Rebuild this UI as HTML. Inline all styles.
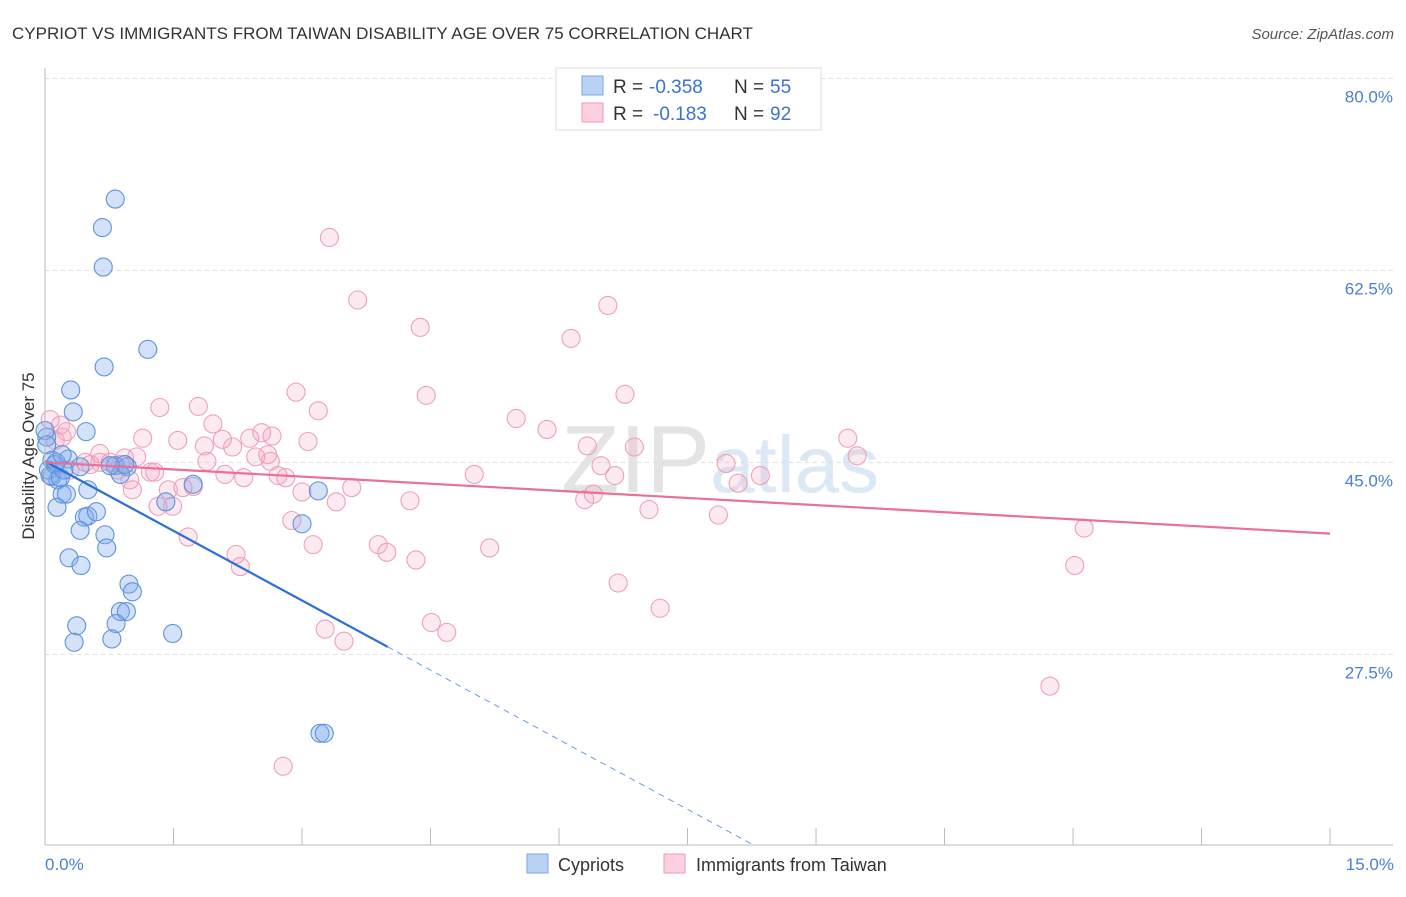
<!DOCTYPE html>
<html><head><meta charset="utf-8"><style>
body{margin:0;background:#fff;font-family:"Liberation Sans",sans-serif}
svg text{font-family:"Liberation Sans",sans-serif}
</style></head><body>
<svg id="chart" width="1406" height="892" xmlns="http://www.w3.org/2000/svg">
<text x="12" y="39" font-size="17" fill="#333">CYPRIOT VS IMMIGRANTS FROM TAIWAN DISABILITY AGE OVER 75 CORRELATION CHART</text>
<text x="1394" y="39" font-size="15" fill="#555" text-anchor="end" font-style="italic">Source: ZipAtlas.com</text>
<text transform="translate(34,456) rotate(-90)" font-size="17" fill="#333" text-anchor="middle">Disability Age Over 75</text>
<text x="720" y="492" font-size="96" fill="#e9e9e9" text-anchor="middle" font-family="Liberation Serif"><tspan fill="#e4e4e4">ZIP</tspan><tspan fill="#dce8f5" font-family="Liberation Sans" font-size="80">atlas</tspan></text>
<g id="grid"></g><g id="pts"></g><g id="trends"></g>
<line x1="45" y1="845" x2="1393" y2="845" stroke="#bbb"/>
<line x1="45" y1="68" x2="45" y2="845" stroke="#bbb"/>
<text x="45" y="870" font-size="17" fill="#4a7fd4">0.0%</text>
<text x="1394" y="870" font-size="17" fill="#4a7fd4" text-anchor="end">15.0%</text>
<g>
<rect x="556" y="68" width="265" height="62" fill="#fff" stroke="#ddd"/>
<rect x="582" y="76" width="21" height="19" fill="#b9d3f5" stroke="#7aa6e6"/>
<rect x="582" y="103" width="21" height="19" fill="#fcd0dc" stroke="#ef9bb4"/>
<text x="613" y="93" font-size="19" fill="#333">R =</text>
<text x="649" y="93" font-size="19" fill="#3a73d0">-0.358</text>
<text x="734" y="93" font-size="19" fill="#333">N =</text>
<text x="770" y="93" font-size="19" fill="#3a73d0">55</text>
<text x="613" y="120" font-size="19" fill="#333">R =</text>
<text x="653" y="120" font-size="19" fill="#3a73d0">-0.183</text>
<text x="734" y="120" font-size="19" fill="#333">N =</text>
<text x="770" y="120" font-size="19" fill="#3a73d0">92</text>
</g>
<g><rect x="527" y="854" width="21" height="19" fill="#b9d3f5" stroke="#7aa6e6"/><text x="558" y="871" font-size="18" fill="#333">Cypriots</text></g>
<g><rect x="664" y="854" width="21" height="19" fill="#fcd0dc" stroke="#ef9bb4"/><text x="696" y="871" font-size="18" fill="#333">Immigrants from Taiwan</text></g>
</svg>
<script>
const yTicks=[80,62.5,45,27.5];
const xTickCount=10;
const blueX=[0.82,0.67,0.68,1.20,0.69,0.30,0.33,0.48,0.02,0.08,0.27,0.41,0.82,0.96,0.88,0.08,0.15,0.20,0.25,0.50,0.14,0.46,0.50,0.60,0.41,0.70,0.72,0.28,0.42,0.98,1.02,0.88,0.95,0.83,0.37,0.78,0.34,1.49,1.73,1.41,3.19,3.00,3.21,3.26,0.04,0.06,0.12,0.18,0.0,0.02,0.93,0.76,0.22,0.13,0.20];
const blueY=[69.0,66.4,62.8,55.3,53.7,51.6,49.6,47.8,47.3,45.2,45.3,44.6,44.7,44.6,43.9,43.7,43.4,42.1,42.1,42.5,40.9,40.0,40.1,40.5,38.8,38.4,37.2,36.3,35.6,33.9,33.2,31.4,31.4,30.3,30.1,28.9,28.6,29.4,43.0,41.4,42.4,39.4,20.3,20.3,44.3,43.8,44.8,43.6,47.9,46.6,44.8,44.7,44.3,45.0,45.7];
const pinkX=[3.32,3.65,6.57,4.38,6.14,2.93,4.45,1.34,1.79,3.19,5.50,6.77,1.96,5.86,9.37,1.14,1.55,2.39,2.65,2.53,3.07,6.33,6.88,9.48,1.86,2.19,2.07,0.64,0.93,0.76,1.07,1.23,1.28,1.89,2.46,2.60,6.49,7.95,5.01,2.10,2.32,2.72,2.81,0.99,1.02,1.44,1.73,1.61,3.00,3.58,4.26,6.30,6.40,6.65,8.09,8.35,1.32,1.49,3.40,7.05,7.86,2.88,12.13,1.67,2.23,3.13,3.89,3.99,4.33,5.19,2.28,12.02,6.69,7.18,4.51,4.69,3.27,3.49,11.73,2.78,0.06,0.12,0.20,0.29,0.53,0.64,0.47,0.85,0.18,0.25,2.63,0.88];
const pinkY=[65.5,59.8,59.3,57.3,56.3,51.4,51.1,50.0,50.1,49.7,49.0,51.2,48.5,48.0,47.2,47.2,47.0,47.2,47.4,47.7,46.9,46.5,46.4,45.6,46.5,46.4,47.1,45.8,45.4,45.0,45.5,44.1,44.1,45.1,45.5,45.7,44.7,44.9,43.9,43.9,43.6,43.8,43.6,43.4,42.5,42.5,42.8,42.7,42.3,42.7,41.5,41.6,42.1,43.8,43.1,43.8,41.0,41.0,41.4,40.7,40.2,39.7,39.0,38.2,36.6,37.5,37.5,36.8,36.1,37.2,35.5,35.6,34.0,31.7,30.4,29.5,29.8,28.7,24.6,17.3,48.9,47.0,47.3,44.3,44.8,45.0,45.0,44.3,48.4,47.8,45.1,44.8];
const blueTrend=[45.1,-4.23];
const blueSolidEnd=4.0;
const pinkTrend=[45.0,-0.433];
const X0=45,XS=85.67,Y0=956,YS=10.97;
const sx=v=>X0+v*XS, sy=v=>Y0-v*YS;
const NS='http://www.w3.org/2000/svg';
function mk(tag,attrs,parent){const e=document.createElementNS(NS,tag);for(const k in attrs)e.setAttribute(k,attrs[k]);parent.appendChild(e);return e;}
const grid=document.getElementById('grid');
yTicks.forEach(t=>{
  const l=mk('line',{x1:45,x2:1393,y1:sy(t),y2:sy(t),stroke:'#ddd','stroke-dasharray':'4,4'},grid);
  
  
  const tx=mk('text',{x:1393,y:sy(t)+24,'font-size':17,fill:'#4a7fd4','text-anchor':'end'},grid);
  tx.textContent=t.toFixed(1)+'%';
  
  
});
for(let i=1;i<=xTickCount;i++){
  const v=15*i/xTickCount;
  const l=mk('line',{x1:sx(v),x2:sx(v),y1:828,y2:845,stroke:'#bbb'},grid);
  
  
}
const pts=document.getElementById('pts');
pinkX.forEach((x,i)=>{
  const c=mk('circle',{cx:sx(x),cy:sy(pinkY[i]),r:9,fill:'rgba(246,160,186,0.22)',stroke:'#eda1b8','stroke-width':1.1},pts);
  
  
});
blueX.forEach((x,i)=>{
  const c=mk('circle',{cx:sx(x),cy:sy(blueY[i]),r:9,fill:'rgba(130,172,238,0.35)',stroke:'#5e92dc','stroke-width':1.1},pts);
  
  
});
const tr=document.getElementById('trends');
const bEnd=(Y0-845)/YS; const bXEnd=(bEnd-blueTrend[0])/blueTrend[1];
let l=mk('line',{x1:sx(0),y1:sy(blueTrend[0]),x2:sx(blueSolidEnd),y2:sy(blueTrend[0]+blueTrend[1]*blueSolidEnd),stroke:'#2a6fd8','stroke-width':2.2},tr);


l=mk('line',{x1:sx(blueSolidEnd),y1:sy(blueTrend[0]+blueTrend[1]*blueSolidEnd),x2:sx(bXEnd),y2:845,stroke:'#6b9be0','stroke-width':1,'stroke-dasharray':'6,5'},tr);


l=mk('line',{x1:sx(0),y1:sy(pinkTrend[0]),x2:sx(15),y2:sy(pinkTrend[0]+pinkTrend[1]*15),stroke:'#e8709a','stroke-width':2.2},tr);


</script>
</body></html>
